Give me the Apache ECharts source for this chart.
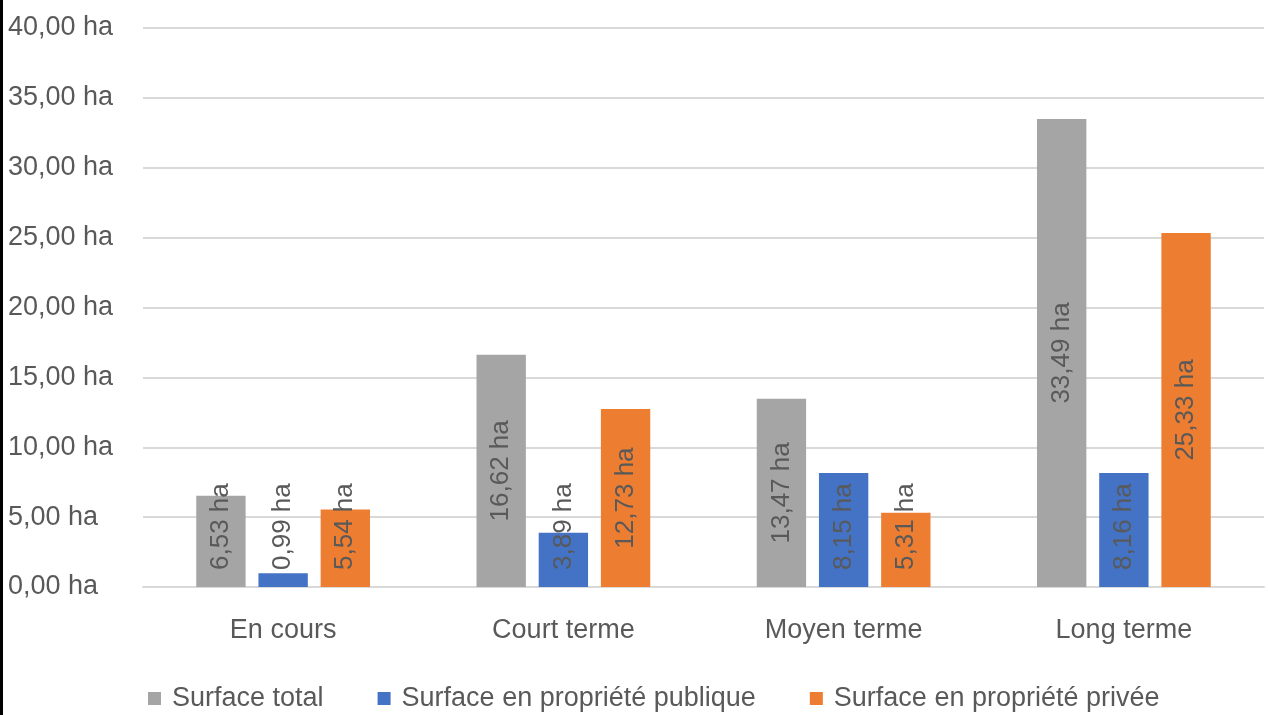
<!DOCTYPE html>
<html>
<head>
<meta charset="utf-8">
<script src="https://cdn.jsdelivr.net/npm/echarts@6/dist/echarts.min.js"></script>
<style>
  html, body { margin: 0; padding: 0; background: #fff; }
  #chart { width: 1268px; height: 715px; }
</style>
</head>
<body>
<div id="chart"></div>
<script>
// Surfaces par échéance (en hectares)
const categories = ['En cours', 'Court terme', 'Moyen terme', 'Long terme'];
const seriesNames = ['Surface total', 'Surface en propriété publique', 'Surface en propriété privée'];
const surfaceTotal = [6.53, 16.62, 13.47, 33.49];
const surfacePublique = [0.99, 3.89, 8.15, 8.16];
const surfacePrivee = [5.54, 12.73, 5.31, 25.33];
const colors = ['#A5A5A5', '#4472C4', '#ED7D31'];

const FONT = '"Liberation Sans", Arial, sans-serif';
const TEXT = '#595959';

const fmtHa = v => v.toFixed(2).replace('.', ',') + ' ha';

const chart = echarts.init(document.getElementById('chart'));

function barSeries(name, data, color) {
  return {
    name: name,
    type: 'bar',
    data: data,
    barGap: '26%',
    barCategoryGap: '38%',
    itemStyle: { color: color },
    label: {
      show: true,
      position: 'inside',
      rotate: 90,
      color: TEXT,
      fontFamily: FONT,
      fontSize: 26,
      formatter: p => fmtHa(p.value)
    },
    // centre the value in the bar, but keep it clear of the axis on short bars
    labelLayout: function (params) {
      const r = params.rect;
      const lr = params.labelRect;
      const len = Math.max(lr.width, lr.height);
      const bottom = r.y + r.height;
      let cy = r.y + r.height / 2;
      const maxCy = bottom - 17 - len / 2;
      if (cy > maxCy) cy = maxCy;
      return { x: r.x + r.width / 2, y: cy, align: 'center', verticalAlign: 'middle' };
    }
  };
}

chart.setOption({
  animation: false,
  textStyle: { fontFamily: FONT },
  grid: { left: 143, right: 4, top: 28, bottom: 128 },
  legend: {
    left: 143,
    top: 680,
    itemWidth: 13,
    itemHeight: 13,
    itemGap: 54,
    icon: 'rect',
    textStyle: { color: TEXT, fontSize: 27, fontFamily: FONT, padding: [0, 0, 0, 6] },
    data: seriesNames
  },
  xAxis: {
    type: 'category',
    data: categories,
    axisLine: { lineStyle: { color: '#D9D9D9', width: 2 } },
    axisTick: { show: false },
    axisLabel: { color: TEXT, fontSize: 27, fontFamily: FONT, margin: 30 }
  },
  yAxis: {
    type: 'value',
    min: 0,
    max: 40,
    interval: 5,
    axisLine: { show: false },
    axisTick: { show: false },
    splitLine: { lineStyle: { color: '#D9D9D9', width: 2 } },
    axisLabel: {
      color: TEXT,
      fontSize: 27,
      fontFamily: FONT,
      align: 'left',
      margin: 135,
      formatter: v => fmtHa(v)
    }
  },
  graphic: [{
    type: 'rect',
    left: 0,
    top: 0,
    shape: { width: 3, height: 715 },
    style: { fill: '#000' }
  }],
  series: [
    barSeries(seriesNames[0], surfaceTotal, colors[0]),
    barSeries(seriesNames[1], surfacePublique, colors[1]),
    barSeries(seriesNames[2], surfacePrivee, colors[2])
  ]
});
</script>
</body>
</html>
